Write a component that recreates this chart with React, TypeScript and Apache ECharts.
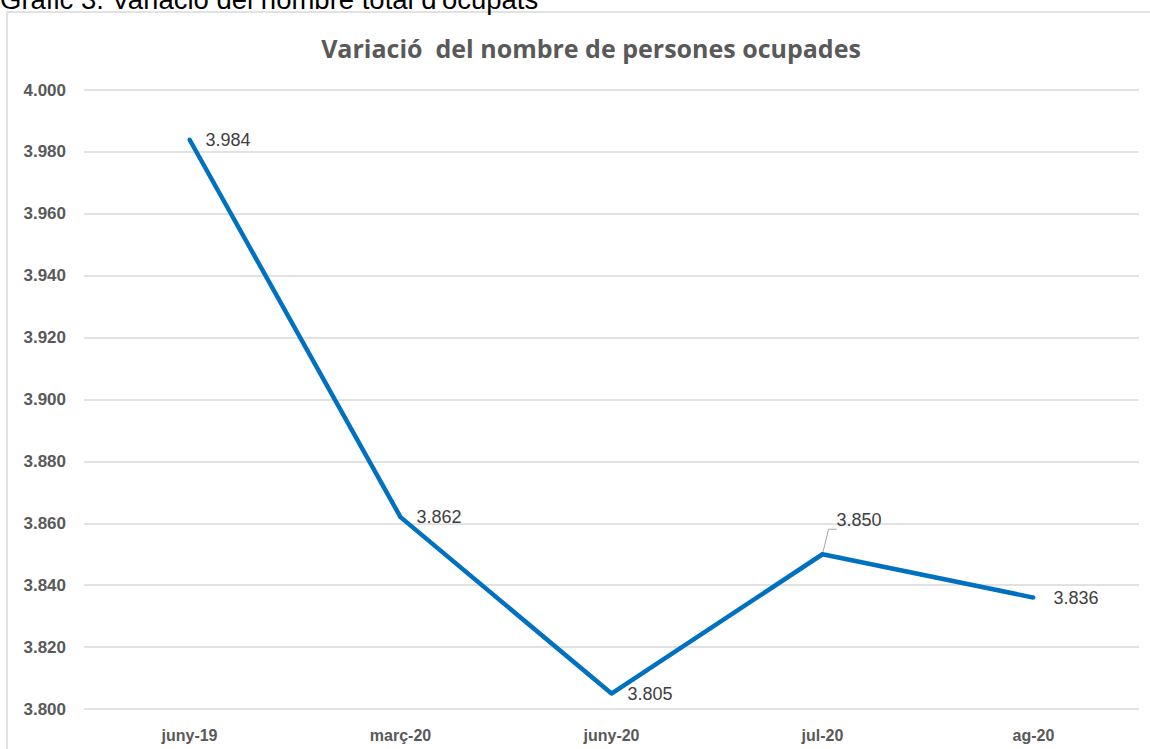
import React, { useEffect, useRef } from "react";
import * as echarts from "echarts";

const categories = ["juny-19", "març-20", "juny-20", "jul-20", "ag-20"];
const values = [3984, 3862, 3805, 3850, 3836];
const yMin = 3800;
const yMax = 4000;
const yInterval = 20;
const chartTitle = "Variació  del nombre de persones ocupades";
const caption = "Gràfic 3. Variació del nombre total d'ocupats";

const fmt = (v: number) => {
  const s = String(Math.round(v));
  return s.slice(0, s.length - 3) + "." + s.slice(s.length - 3);
};

export default function App() {
  const ref = useRef<HTMLDivElement>(null);
  useEffect(() => {
    if (!ref.current) return;
    const chart = echarts.init(ref.current, undefined, { renderer: "svg" });
    const labelFont = "'Liberation Sans Narrow', 'Liberation Sans', sans-serif";
    const dataItems = values.map((v, i) => {
      const item: any = { value: v };
      if (i === 3) {
        item.label = { position: "right", distance: 0, offset: [12, -34] };
        item.labelLine = { show: true, length2: 8, lineStyle: { color: "#a6a6a6", width: 1 } };
      } else if (i === 4) {
        item.label = { position: "right", distance: 18 };
      } else {
        item.label = { position: "right", distance: 14 };
      }
      return item;
    });
    chart.setOption({
      animation: false,
      backgroundColor: "#ffffff",
      title: {
        text: chartTitle,
        left: 586,
        top: 30,
        textAlign: "center",
        textStyle: { fontSize: 25, fontWeight: "bold", color: "#595959", fontFamily: "'Open Sans', sans-serif" },
      },
      graphic: [
        {
          type: "rect",
          shape: { x: 7, y: 12, width: 1170, height: 780 },
          style: { fill: "none", stroke: "#d9d9d9", lineWidth: 1.5 },
          silent: true,
        },
        {
          type: "text",
          x: 0,
          y: -15,
          style: { text: caption, font: "27.5px 'Liberation Sans', sans-serif", fill: "#000000" },
          silent: true,
        },
      ],
      grid: { left: 84, right: 11, top: 90, bottom: 40 },
      xAxis: {
        type: "category",
        data: categories,
        boundaryGap: true,
        axisLine: { show: false },
        axisTick: { show: false },
        axisLabel: { margin: 18, fontSize: 16, fontWeight: "bold", color: "#595959", fontFamily: labelFont },
      },
      yAxis: {
        type: "value",
        min: yMin,
        max: yMax,
        interval: yInterval,
        axisLine: { show: false },
        axisTick: { show: false },
        splitLine: { lineStyle: { color: "#d9d9d9", width: 1.5 } },
        axisLabel: {
          margin: 18,
          fontSize: 17,
          fontWeight: "bold",
          color: "#595959",
          fontFamily: labelFont,
          formatter: (v: number) => fmt(v),
        },
      },
      series: [
        {
          type: "line",
          data: dataItems,
          symbol: "circle",
          symbolSize: 4,
          showSymbol: true,
          lineStyle: { color: "#0070C0", width: 4.5 },
          itemStyle: { color: "#0070C0" },
          label: {
            show: true,
            formatter: (p: any) => fmt(p.value),
            fontSize: 18,
            color: "#404040",
            fontFamily: "'Liberation Sans', sans-serif",
          },
        },
      ],
    });
    return () => chart.dispose();
  }, []);
  return (
    <div style={{ position: "fixed", left: 0, top: 0, width: 1150, height: 749 }}>
      <div ref={ref} style={{ width: 1150, height: 749 }} />
    </div>
  );
}
